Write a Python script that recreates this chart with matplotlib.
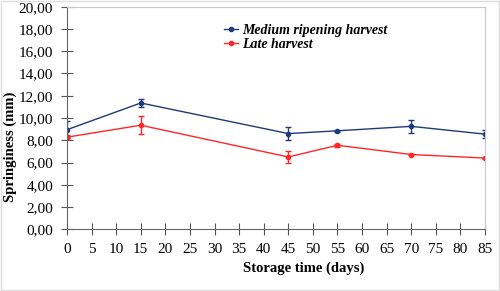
import numpy as np
import matplotlib.pyplot as plt
from matplotlib.lines import Line2D

dias = [0, 15, 45, 55, 70, 85]
medio = [8.95, 11.35, 8.6, 8.85, 9.25, 8.55]
medio_err = [0.75, 0.4, 0.6, 0.1, 0.6, 0.35]
tardio = [8.28, 9.35, 6.5, 7.55, 6.72, 6.4]
tardio_err = [0.2, 0.8, 0.55, 0.15, 0.05, 0.05]
yticks = np.arange(0, 21, 2)

plt.rcParams["font.family"] = ["Liberation Serif", "DejaVu Serif"]

azul = "#1f3a78"
rojo = "#ff2626"

fig = plt.figure(figsize=(5.0, 2.91), dpi=100)
ax = fig.add_axes([67 / 500, 1 - 229.3 / 291, (485 - 67) / 500, (229.3 - 6.7) / 291])

ax.errorbar(dias, medio, yerr=medio_err, color=azul, marker="o", ms=3,
            lw=1, elinewidth=1, capsize=2)
ax.errorbar(dias, tardio, yerr=tardio_err, color=rojo, marker="o", ms=3,
            lw=1, elinewidth=1, capsize=2)

ax.set_xlim(0, 85)
ax.set_ylim(0, 20)
ax.set_xticks(np.arange(0, 86, 5))
ax.set_yticks(yticks)
ax.set_yticklabels([("%.2f" % v).replace(".", ",") for v in yticks])
ax.tick_params(direction="inout", length=8, width=0.8, labelsize=11, color="#555555")
ax.tick_params(axis="y", pad=6)
ax.tick_params(axis="x", pad=6)

for s in ["left", "bottom"]:
    ax.spines[s].set_color("#666666")
for s in ["right", "top"]:
    ax.spines[s].set_color("#c8c8c8")
    ax.spines[s].set_linewidth(0.8)

fig.text(304 / 500, 1 - 268 / 291, "Storage time (days)", fontweight="bold",
         fontsize=10.5, ha="center", va="center")
fig.text(10 / 500, 1 - 147 / 291, "Springiness (mm)", fontweight="bold",
         fontsize=10.5, ha="center", va="center", rotation=90)

handles = [Line2D([], [], color=azul, marker="o", ms=3, lw=1),
           Line2D([], [], color=rojo, marker="o", ms=3, lw=1)]
ax.legend(handles, ["Medium ripening harvest", "Late harvest"],
          loc="upper left", bbox_to_anchor=(0.345, 0.98), frameon=False,
          prop={"style": "italic", "weight": "bold", "size": 10},
          handlelength=1.0, handletextpad=0.3, labelspacing=0.1)

fig.patches.append(plt.Rectangle((0.002, 0.003), 0.996, 0.994, transform=fig.transFigure,
                                 fill=False, edgecolor="#dddddd", lw=1))

fig.savefig("out.png", dpi=100)
